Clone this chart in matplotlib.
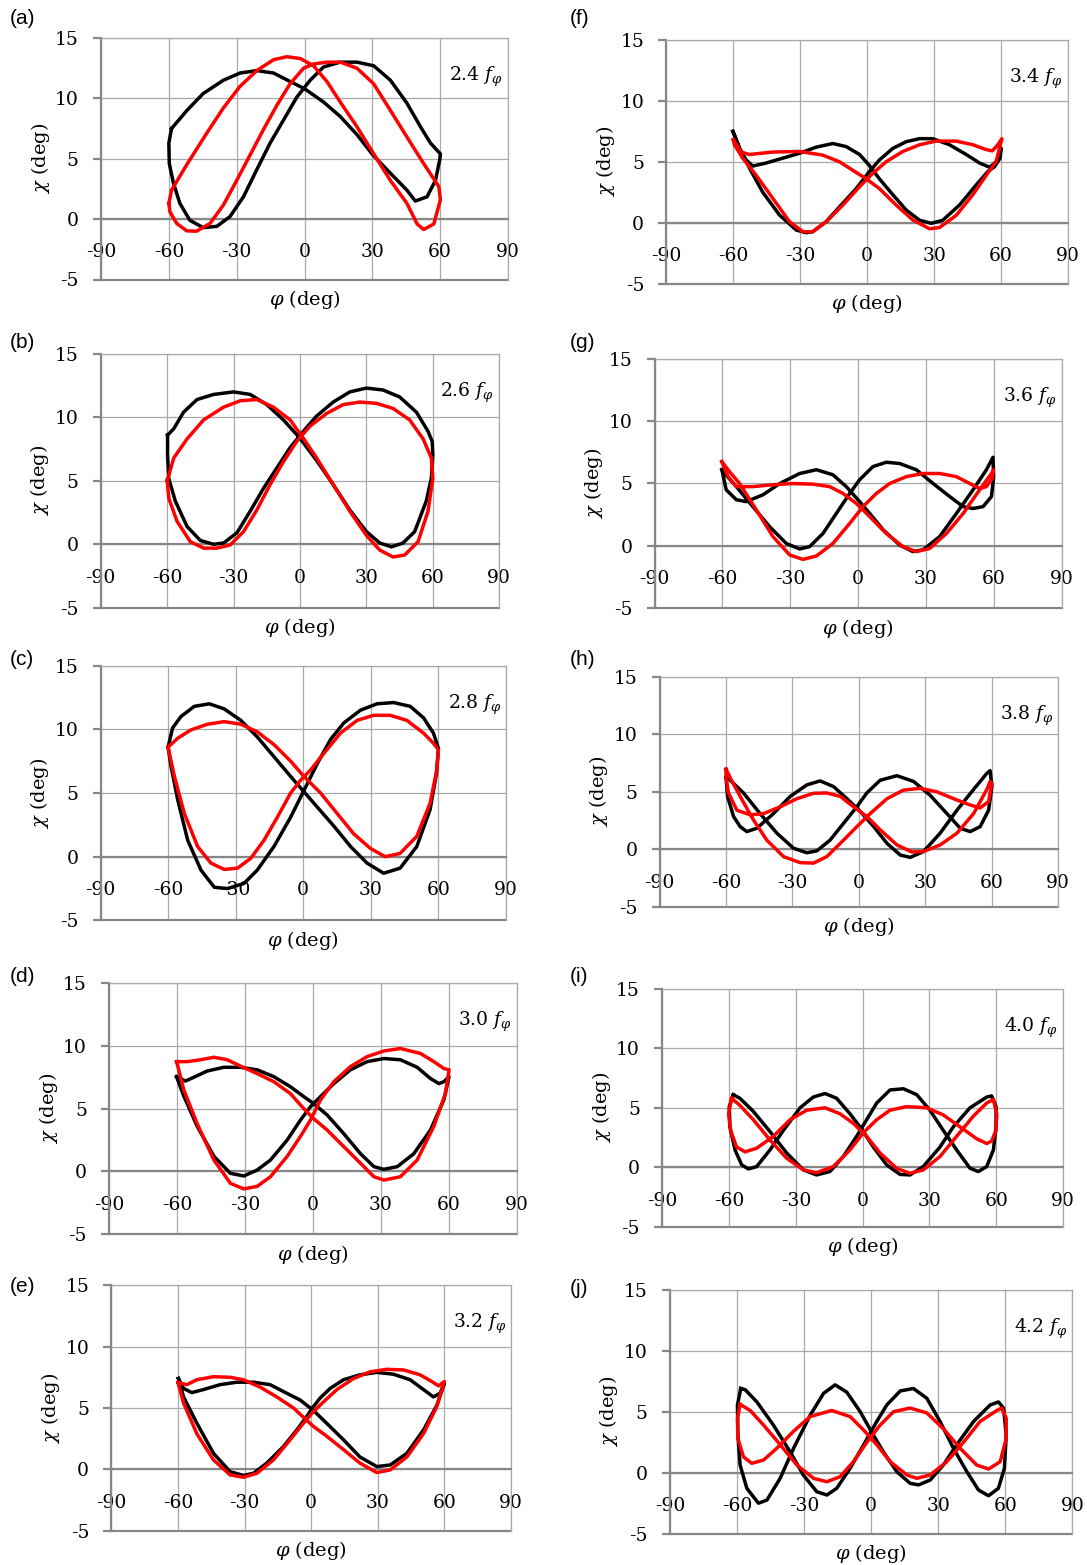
import matplotlib
matplotlib.use('Agg')
import matplotlib.pyplot as plt

plt.rcParams['font.family'] = 'DejaVu Serif'
plt.rcParams['mathtext.fontset'] = 'dejavuserif'
plt.rcParams['axes.unicode_minus'] = False

# axis ticks
phi_ticks = [-90, -60, -30, 0, 30, 60, 90]
chi_ticks = [-5, 0, 5, 10, 15]

# frequency of each panel (multiples of f_phi)
freqs = ['2.4', '2.6', '2.8', '3.0', '3.2', '3.4', '3.6', '3.8', '4.0', '4.2']
panel_names = ['(a)', '(b)', '(c)', '(d)', '(e)', '(f)', '(g)', '(h)', '(i)', '(j)']

# loops: (phi, chi) in deg, black and red traces
a_black = [(-58.8, 7.5), (-52, 9.0), (-44.8, 10.4), (-35.9, 11.5), (-28.5, 12.1), (-21.1, 12.3), (-13.7, 12.1),
           (-6.4, 11.4), (0, 10.8), (8.4, 9.7), (15.8, 8.5), (23.2, 7.0), (30.3, 5.3), (38, 3.8), (45.3, 2.4),
           (49, 1.5), (54.2, 1.85), (57.9, 3.2), (59.8, 4.9), (60.1, 5.4), (55.7, 6.3), (51.3, 7.65), (45.3, 9.6),
           (38, 11.5), (30.6, 12.7), (23.2, 13.0), (15.8, 13.0), (8.4, 12.6), (2.5, 11.5), (-3.4, 10.1),
           (-9.3, 8.2), (-15.2, 6.3), (-21.1, 4.1), (-27, 1.85), (-33, 0.2), (-38.8, -0.6), (-44.8, -0.7),
           (-50.7, -0.1), (-55.1, 1.3), (-58, 3.0), (-59.8, 4.6), (-60, 6.3)]
a_red = [(-60, 1.3), (-58.8, 2.4), (-52.1, 4.5), (-43.3, 7.1), (-35.9, 9.2), (-28.5, 11.0), (-21.1, 12.3),
         (-13.7, 13.2), (-7.8, 13.45), (-1.9, 13.3), (4.0, 12.7), (9.9, 11.4), (15.8, 9.7), (23.2, 7.65),
         (30.6, 5.4), (38, 3.2), (45.3, 1.3), (49.8, -0.4), (52.7, -0.86), (57.2, -0.4), (60.1, 1.6), (59.4, 2.7),
         (52.7, 4.6), (45.3, 6.8), (38, 9.0), (30.6, 11.2), (23.2, 12.5), (15.8, 13.0), (9.9, 13.0), (4.0, 12.85),
         (-0.4, 12.5), (-6.4, 11.2), (-12.3, 9.4), (-18.2, 7.4), (-24.1, 5.3), (-30, 3.2), (-35.9, 1.16),
         (-41.8, -0.36), (-47.7, -1.0), (-52.1, -0.97), (-56.5, -0.36), (-59.5, 0.6)]

b_black = [(-59.8, 8.6), (-57, 9.1), (-52.6, 10.4), (-46.5, 11.4), (-39, 11.8), (-30, 12.0), (-22.5, 11.8),
           (-15, 11.0), (-7.5, 9.8), (0, 8.35), (7.5, 6.6), (15, 4.7), (22.5, 2.7), (30, 1.0), (36, 0.1),
           (41.3, -0.2), (46.5, 0.1), (51.8, 1.0), (57, 3.4), (59.3, 5.2), (60, 7.0), (59.7, 8.1), (57.8, 8.9),
           (52.6, 10.4), (45, 11.6), (37.5, 12.15), (30, 12.3), (22.5, 12.0), (15, 11.2), (7.5, 10.1), (1.5, 8.9),
           (-4.5, 7.6), (-10.5, 6.0), (-16.5, 4.4), (-22.5, 2.6), (-28.5, 0.9), (-34.5, 0.1), (-39, 0.0),
           (-45, 0.3), (-51, 1.4), (-56.3, 3.4), (-59.3, 5.2), (-59.8, 7.0)]
b_red = [(-60, 5.0), (-57, 6.8), (-51, 8.3), (-43.5, 9.8), (-34.5, 10.8), (-27, 11.3), (-19.5, 11.4), (-12, 10.8),
         (-4.5, 9.8), (1.5, 8.35), (7.5, 6.8), (15, 4.7), (22.5, 2.6), (30, 0.7), (36, -0.45), (42, -1.0),
         (47.3, -0.84), (53.3, 0.2), (57.8, 2.6), (60, 5.2), (59.3, 6.8), (55.6, 8.3), (49.5, 9.8), (42, 10.7),
         (34.5, 11.1), (27, 11.2), (19.5, 11.0), (12, 10.3), (4.5, 9.3), (-1.5, 8.1), (-7.5, 6.5), (-13.5, 4.7),
         (-19.5, 2.7), (-25.5, 1.0), (-31.5, -0.05), (-37.5, -0.3), (-43.5, -0.3), (-49.5, 0.2), (-55.5, 1.8),
         (-59.2, 3.6)]

c_black = [(-60, 8.6), (-58, 10.1), (-54.3, 11.0), (-48.4, 11.8), (-41.7, 12.0), (-35.1, 11.6), (-27.7, 10.7),
           (-20.4, 9.4), (-13, 7.85), (-5.6, 6.3), (0.3, 5.1), (6.2, 3.9), (13.6, 2.4), (21, 0.8), (28.3, -0.5),
           (35.7, -1.3), (43, -0.9), (50.4, 0.8), (56.3, 3.7), (59.1, 6.5), (60, 8.5), (57.8, 9.7), (53.4, 10.9),
           (47.5, 11.8), (40.1, 12.1), (32.7, 12.0), (25.4, 11.5), (18, 10.5), (12.1, 9.2), (6.2, 7.3), (0.3, 5.2),
           (-5.6, 3.1), (-13, 0.8), (-20.4, -1.05), (-26.3, -2.1), (-33.6, -2.5), (-39.5, -2.4), (-45.4, -1.05),
           (-51.3, 1.3), (-55.7, 4.45), (-58.7, 7.1)]
c_red = [(-60, 8.6), (-55.7, 9.3), (-49.9, 9.95), (-42.5, 10.4), (-35.1, 10.6), (-27.7, 10.4), (-20.4, 9.8),
         (-13, 8.8), (-5.6, 7.5), (0.3, 6.3), (7.7, 5.0), (15, 3.4), (22.4, 1.8), (29.8, 0.65), (36.4, 0),
         (43, 0.26), (50.4, 1.6), (56.3, 4.2), (59.3, 6.8), (60, 8.4), (57.8, 8.9), (53.4, 9.7), (46, 10.7),
         (38.6, 11.1), (31.3, 11.1), (23.9, 10.7), (16.5, 9.7), (9.1, 8.1), (3.2, 6.8), (-1.2, 6.0), (-5.6, 5.0),
         (-11.5, 3.1), (-17.4, 1.3), (-23.3, -0.13), (-29.2, -0.9), (-35.1, -1.0), (-41, -0.5), (-46.9, 0.8),
         (-52.8, 3.4), (-57.2, 6.3)]

d_black = [(-60.2, 7.55), (-56.3, 7.2), (-52.6, 7.5), (-46.7, 8.0), (-39.3, 8.3), (-32, 8.3), (-24.6, 8.1),
           (-17.2, 7.55), (-9.9, 6.75), (-4, 5.96), (0.4, 5.4), (6.3, 4.5), (13.7, 3.0), (21.1, 1.4), (27, 0.37),
           (31.4, 0.16), (37.3, 0.37), (44.6, 1.4), (52, 3.3), (57.9, 5.7), (60.2, 7.55), (57.9, 7.15), (55.7, 7.0),
           (52, 7.4), (46.1, 8.3), (38.7, 8.9), (31.4, 9.0), (24, 8.75), (16.6, 8.1), (9.3, 7.0), (3.4, 5.96),
           (-1, 5.16), (-5.4, 4.1), (-11.3, 2.5), (-18.7, 0.9), (-24.6, 0.1), (-30.5, -0.37), (-36.4, -0.16),
           (-43.7, 1.2), (-51.1, 3.6), (-57, 6.0)]
d_red = [(-60.2, 8.75), (-55.5, 8.75), (-49.6, 8.9), (-43.7, 9.1), (-37.8, 8.9), (-32, 8.4), (-24.6, 7.8),
         (-17.2, 7.15), (-9.9, 6.2), (-4, 5.0), (0.4, 4.2), (6.3, 3.3), (13.7, 1.97), (21.1, 0.64), (27, -0.43),
         (31.4, -0.7), (38.7, -0.43), (46.1, 0.9), (53.5, 3.6), (58.6, 6.2), (60.2, 8.1), (57.9, 8.2), (53.5, 8.75),
         (47.6, 9.4), (38.7, 9.8), (31.4, 9.6), (24, 9.15), (16.6, 8.35), (9.3, 7.15), (3.4, 5.7), (-1, 4.1),
         (-5.4, 2.8), (-11.3, 1.2), (-18.7, -0.43), (-24.6, -1.2), (-30.5, -1.4), (-36.4, -0.96), (-43.7, 0.9),
         (-51.1, 3.8), (-57, 6.5), (-59.6, 8.35)]

e_black = [(-59.8, 7.4), (-57.5, 6.6), (-53.8, 6.25), (-48.5, 6.5), (-41, 6.9), (-33.5, 7.1), (-26, 7.1),
           (-18.5, 6.9), (-11, 6.2), (-5, 5.65), (1, 4.8), (7, 3.75), (14.6, 2.4), (22, 1.0), (29.6, 0.22),
           (35.6, 0.35), (43.1, 1.3), (50.6, 3.2), (56.6, 5.2), (60, 7.0), (58.1, 6.2), (55.1, 5.9), (50.6, 6.5),
           (44.6, 7.3), (37.1, 7.75), (29.6, 7.9), (22, 7.7), (14.6, 7.3), (8.6, 6.6), (4, 5.8), (1, 5.1), (-2, 4.3),
           (-6.5, 3.2), (-12.5, 1.85), (-20, 0.5), (-26, -0.33), (-30.5, -0.5), (-36.5, -0.2), (-44, 1.3),
           (-51.5, 3.75), (-57.5, 5.9)]
e_red = [(-60, 7.07), (-56, 6.9), (-51.5, 7.3), (-44, 7.55), (-36.5, 7.5), (-30.5, 7.3), (-23, 6.7), (-15.5, 5.9),
         (-8, 5.0), (-2, 4.0), (1, 3.5), (7, 2.7), (14.6, 1.6), (22, 0.5), (29.6, -0.27), (35.6, -0.05), (43.1, 1.0),
         (50.6, 2.9), (56.6, 5.1), (60, 7.15), (57.4, 6.8), (54.4, 7.15), (49.1, 7.7), (41.6, 8.1), (34.1, 8.15),
         (26.6, 7.95), (19.1, 7.4), (11.6, 6.5), (5.6, 5.5), (1, 4.7), (-3.5, 3.75), (-9.5, 2.4), (-17, 0.76),
         (-24.5, -0.33), (-30.5, -0.65), (-36.5, -0.46), (-44, 0.76), (-51.5, 2.9), (-57.5, 5.4)]

f_black = [(-60.2, 7.5), (-57.2, 6.1), (-54.3, 5.15), (-51.3, 4.65), (-45.3, 4.9), (-37.8, 5.3), (-30.3, 5.7),
           (-22.9, 6.2), (-15.4, 6.5), (-9.4, 6.25), (-3.4, 5.6), (1, 4.7), (5.5, 3.6), (11.5, 2.3), (17.5, 1.04),
           (23.5, 0.2), (28.7, -0.05), (33.9, 0.2), (41.4, 1.45), (48.9, 3.1), (54.1, 4.2), (57.1, 4.6), (59.6, 5.3),
           (60.1, 6.1), (57.8, 5.0), (54.9, 4.55), (50.4, 4.9), (44.4, 5.6), (36.9, 6.4), (29.4, 6.9), (23.5, 6.9),
           (17.5, 6.65), (11.5, 6.1), (5.5, 5.15), (1, 4.2), (-4.9, 2.8), (-12.4, 1.3), (-18.4, 0.08), (-24.4, -0.74),
           (-27.4, -0.82), (-31.8, -0.6), (-39.3, 0.63), (-46.8, 2.5), (-52.8, 4.5), (-57.2, 6.1), (-59.5, 7.2)]
f_red = [(-60, 6.8), (-56.5, 5.8), (-52.8, 5.6), (-42.3, 5.8), (-30.3, 5.85), (-19.9, 5.55), (-12.4, 5.0),
         (-6.4, 4.3), (-0.4, 3.6), (5.5, 2.8), (13, 1.45), (20.5, 0.22), (28, -0.5), (32.4, -0.4), (39.9, 0.6),
         (47.4, 2.3), (53.4, 3.9), (57.8, 5.0), (60.4, 6.9), (58.6, 6.4), (56.1, 5.9), (53.4, 6.0), (47.4, 6.4),
         (39.9, 6.7), (30.9, 6.7), (23.5, 6.4), (16, 5.85), (8.5, 5.0), (2.5, 4.05), (-3.4, 2.96), (-10.9, 1.45),
         (-18.4, 0.08), (-24.4, -0.74), (-28.8, -0.74), (-34.8, 0.08), (-42.3, 2.0), (-49.8, 3.9), (-55.8, 5.3),
         (-59.5, 6.4)]

g_black = [(-60.2, 6.1), (-58.3, 4.5), (-53.8, 3.7), (-49.4, 3.55), (-42, 4.1), (-34.6, 5.0), (-25.8, 5.8),
           (-18.4, 6.1), (-11.1, 5.7), (-5.2, 4.75), (0, 3.7), (5.2, 2.6), (11.1, 1.3), (18.4, 0.08), (24.3, -0.45),
           (28.8, -0.3), (36.1, 0.75), (43.5, 2.6), (50.9, 4.5), (56.8, 6.1), (59.7, 7.1), (60, 5.5), (59, 3.95),
           (55.3, 3.15), (50.9, 3.0), (46.5, 3.15), (40.6, 3.95), (33.2, 5.0), (25.8, 6.1), (18.4, 6.6), (12.5, 6.7),
           (6.6, 6.35), (0.7, 5.3), (-3.7, 4.2), (-9.6, 2.6), (-15.5, 1.0), (-21.4, -0.05), (-25.8, -0.24),
           (-31.7, 0.2), (-39.1, 1.55), (-46.5, 3.15), (-53.8, 4.75), (-59, 5.8)]
g_red = [(-60.2, 6.75), (-57.5, 5.55), (-53.8, 4.75), (-46.5, 4.75), (-37.6, 4.9), (-28.8, 5.0), (-19.9, 4.95),
         (-12.5, 4.75), (-6.6, 4.2), (-0.7, 3.4), (5.2, 2.35), (12.5, 1.0), (19.9, -0.05), (25.8, -0.45),
         (31.7, -0.2), (39.1, 1.0), (46.5, 2.6), (53.8, 4.5), (59, 5.8), (59.9, 6.1), (59.4, 5.4), (56.8, 4.75),
         (53.8, 4.6), (49.4, 5.0), (43.5, 5.55), (36.1, 5.8), (28.8, 5.8), (21.4, 5.55), (14, 5.0), (8.1, 4.2),
         (2.2, 3.15), (-3.7, 1.8), (-11.1, 0.2), (-18.4, -0.8), (-24.3, -1.07), (-30.2, -0.72), (-37.6, 0.75),
         (-45, 2.9), (-52.4, 5.0), (-57.5, 6.1), (-59.6, 6.6)]

h_black = [(-60, 6.26), (-59.3, 4.6), (-56.6, 2.85), (-53.6, 1.97), (-50.6, 1.54), (-46.1, 1.83), (-38.6, 3.1),
           (-31, 4.6), (-23.5, 5.6), (-17.5, 5.95), (-11.4, 5.45), (-5.4, 4.4), (0.6, 3.3), (6.6, 2.0), (12.7, 0.52),
           (18.7, -0.5), (23.2, -0.7), (29.2, -0.2), (36.7, 1.4), (44.3, 3.4), (51.8, 5.2), (57.8, 6.6),
           (59.3, 6.84), (60.1, 5.45), (58.6, 3.4), (54.8, 1.97), (50.3, 1.54), (45.8, 1.83), (39.8, 3.1),
           (32.2, 4.7), (24.7, 5.9), (17.2, 6.4), (9.6, 6.0), (3.6, 4.9), (-0.9, 3.7), (-6.9, 2.26), (-13, 0.8),
           (-19, -0.14), (-23.5, -0.3), (-29.5, 0.09), (-37, 1.4), (-44.6, 3.1), (-52.1, 4.9), (-58.1, 6.0)]
h_red = [(-60, 6.96), (-57.5, 6.0), (-53.6, 4.6), (-47.6, 2.55), (-41.6, 0.8), (-34, -0.64), (-26.5, -1.16),
         (-20.5, -1.2), (-14.5, -0.64), (-6.9, 0.8), (-0.9, 1.97), (5.1, 3.1), (12.7, 4.4), (20.2, 5.15),
         (27.7, 5.3), (35.2, 5.0), (42.8, 4.4), (50.3, 3.85), (54.8, 3.6), (58.6, 4.15), (60.1, 5.7), (59.3, 5.9),
         (57.8, 5.2), (51.8, 3.1), (44.3, 1.4), (36.7, 0.38), (29.2, -0.2), (23.9, -0.23), (17.2, 0.38), (9.6, 1.7),
         (3.6, 2.85), (-2.4, 3.7), (-8.4, 4.6), (-14.5, 4.9), (-20.5, 4.87), (-28, 4.4), (-35.5, 3.7), (-43.1, 3.1),
         (-49.1, 3.0), (-55.1, 3.4), (-58.9, 4.9), (-60, 6.3)]

i_black = [(-58.1, 6.1), (-59.9, 5.1), (-59.6, 3.4), (-57.3, 1.46), (-54.3, 0.2), (-51.3, -0.14), (-47.6, 0.06),
           (-41.6, 1.46), (-35.6, 3.1), (-28.1, 5.0), (-22.2, 5.9), (-16.9, 6.2), (-11.7, 5.8), (-5.7, 4.5), (0, 3.1),
           (4.8, 1.7), (10.8, 0.2), (16.8, -0.6), (21.3, -0.64), (27.2, 0.06), (34.7, 1.7), (40.7, 3.4), (48.2, 5.0),
           (55.7, 5.9), (57.9, 6.0), (59.9, 5.1), (59.9, 3.4), (58.7, 1.46), (55.7, 0.06), (51.9, -0.36),
           (48.2, -0.08), (42.2, 1.46), (36.2, 3.1), (30.2, 4.8), (24.3, 6.1), (18.3, 6.6), (12.3, 6.5), (6.3, 5.4),
           (1.8, 4.0), (-2.7, 2.6), (-8.7, 0.9), (-14.7, -0.36), (-20.7, -0.64), (-26.6, -0.22), (-34.1, 1.2),
           (-41.6, 3.0), (-49.1, 4.7), (-55.1, 5.8)]
i_red = [(-58.8, 5.8), (-60.2, 4.5), (-59.3, 3.1), (-56.6, 1.7), (-52.8, 1.3), (-47.6, 1.6), (-40.1, 2.6),
         (-32.6, 4.0), (-25.1, 4.8), (-16.9, 5.0), (-10.2, 4.5), (-4.2, 3.7), (1.8, 2.6), (7.8, 1.2), (15.3, -0.1),
         (21.3, -0.5), (27.2, -0.22), (34.7, 0.9), (42.2, 2.6), (49.7, 4.3), (55.7, 5.4), (58.7, 5.7), (60.2, 4.5),
         (59.9, 3.1), (57.9, 2.2), (55.7, 2.0), (51.2, 2.4), (43.7, 3.4), (36.2, 4.4), (28.7, 5.0), (19.8, 5.1),
         (12.3, 4.8), (6.3, 4.0), (0.3, 2.9), (-5.7, 1.46), (-13.2, 0.06), (-20.7, -0.45), (-26.6, -0.22),
         (-34.1, 0.76), (-41.6, 2.3), (-49.1, 4.0), (-55.1, 5.2)]

j_black = [(-58.3, 6.9), (-59.8, 5.55), (-59.6, 3.1), (-58.6, 0.63), (-55.6, -1.28), (-50.4, -2.5), (-46.6, -2.24),
           (-40.7, -0.46), (-34.7, 2.0), (-27.3, 4.7), (-21.3, 6.5), (-16.1, 7.2), (-10.9, 6.6), (-4.9, 5.0),
           (0, 3.4), (5.5, 1.7), (11.5, 0.08), (17.4, -0.87), (21.2, -1.0), (26.4, -0.6), (32.3, 0.63), (38.3, 2.3),
           (45.8, 4.2), (53.2, 5.55), (56.9, 5.8), (59.2, 5.3), (60.4, 3.1), (59.6, 0.36), (56.9, -1.28),
           (52.5, -1.89), (48, -1.42), (42.8, 0.08), (36.8, 2.0), (30.8, 4.2), (24.9, 6.1), (18.9, 6.9), (13, 6.7),
           (7, 5.55), (2.5, 4.2), (-2.7, 2.5), (-9.4, 0.36), (-15.4, -1.28), (-19.8, -1.83), (-24.3, -1.56),
           (-30.3, -0.2), (-36.2, 1.7), (-43.7, 3.9), (-51.1, 5.8), (-56.3, 6.8)]
j_red = [(-58.6, 5.6), (-59.8, 4.45), (-59.6, 2.8), (-57.1, 1.3), (-53.4, 0.77), (-48.1, 1.04), (-42.2, 2.0),
         (-34.7, 3.4), (-27.3, 4.6), (-17.6, 5.1), (-9.4, 4.6), (-3.4, 3.5), (2.5, 2.3), (8.5, 0.9), (16, -0.19),
         (20.4, -0.46), (26.4, -0.19), (33.8, 0.9), (41.3, 2.5), (48.7, 4.2), (56.2, 5.1), (58.4, 5.3), (60.4, 4.45),
         (60.4, 2.8), (57.7, 0.9), (52.5, 0.3), (47.2, 0.63), (39.8, 2.0), (32.3, 3.6), (24.9, 4.9), (17.4, 5.3),
         (10, 5.0), (4, 3.9), (-1.9, 2.5), (-7.9, 0.9), (-13.9, -0.33), (-19.8, -0.74), (-25.8, -0.46),
         (-33.2, 0.63), (-40.7, 2.3), (-48.1, 3.9), (-54.1, 5.1)]

black_loops = [a_black, b_black, c_black, d_black, e_black, f_black, g_black, h_black, i_black, j_black]
red_loops = [a_red, b_red, c_red, d_red, e_red, f_red, g_red, h_red, i_red, j_red]

# layout in pixels: plot area (left, right, top, bottom) and panel-label anchor
W, H = 1087, 1565
boxes = [(101, 508, 38, 279.5), (100.7, 499.3, 353.8, 607.8), (100.5, 506, 665.6, 920.4),
         (109.1, 516.5, 983.3, 1234), (111.4, 510.9, 1285.3, 1530.6),
         (666.4, 1067.9, 40, 283.6), (654.5, 1061.5, 358.5, 608.5), (659.6, 1058.1, 676.8, 906.8),
         (662.2, 1063.1, 988.8, 1226.8), (669.9, 1072.4, 1289.7, 1533.7)]
tag_pos = [(10, 19), (10, 343), (10, 660), (10, 977), (10, 1287),
           (570, 19), (570, 343), (570, 660), (570, 977), (570, 1289)]

GRID = '#a9a9a9'
AXIS = '#878787'

fig = plt.figure(figsize=(W / 100, H / 100), dpi=100)

for k in range(10):
    l, r, t, b = boxes[k]
    ax = fig.add_axes([l / W, 1 - b / H, (r - l) / W, (b - t) / H])
    ax.set_xlim(-90, 90)
    ax.set_ylim(-5, 15)
    ax.set_xticks(phi_ticks)
    ax.set_xticklabels([str(v) for v in phi_ticks])
    ax.set_yticks(chi_ticks)
    ax.set_yticklabels([str(v) for v in chi_ticks])
    ax.grid(True, color=GRID, lw=0.9)
    for s in ['top', 'right']:
        ax.spines[s].set_color(GRID)
        ax.spines[s].set_linewidth(0.9)
    ax.spines['left'].set_color(AXIS)
    ax.spines['left'].set_linewidth(1.6)
    ax.spines['bottom'].set_position(('data', 0))
    ax.spines['bottom'].set_color(AXIS)
    ax.spines['bottom'].set_linewidth(1.6)
    ax.axhline(-5, color=AXIS, lw=1.6, clip_on=False, zorder=2.5)
    ax.tick_params(axis='y', direction='out', length=6, width=1.6, color=AXIS, pad=10, labelsize=13.5)
    ax.tick_params(axis='x', length=0, pad=17.5, labelsize=13.5)

    for loop, col in [(black_loops[k], 'black'), (red_loops[k], '#ff0000')]:
        xs = [p[0] for p in loop] + [loop[0][0]]
        ys = [p[1] for p in loop] + [loop[0][1]]
        ax.plot(xs, ys, color=col, lw=2.5, solid_joinstyle='round', zorder=3)

    fig.text((r - 5) / W, 1 - (t + 43) / H, '%s $f_\\varphi$' % freqs[k],
             ha='right', va='baseline', fontsize=13.5)
    fig.text((l - 61) / W, 1 - ((t + b) / 2) / H, r'$\chi$ (deg)', rotation=90,
             ha='center', va='center', fontsize=14)
    fig.text(((l + r) / 2) / W, 1 - (b + 20) / H, r'$\varphi$ (deg)',
             ha='center', va='center', fontsize=14)
    tx, ty = tag_pos[k]
    fig.text(tx / W, 1 - ty / H, panel_names[k], family='Liberation Sans',
             ha='left', va='center', fontsize=15)

fig.savefig('out.png', dpi=100)
